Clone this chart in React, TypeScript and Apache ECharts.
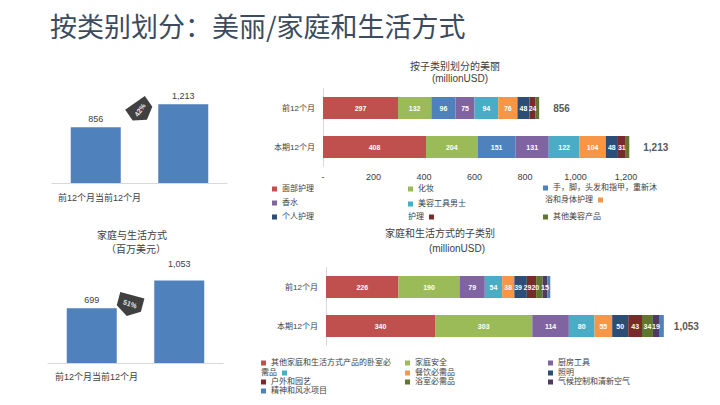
import React, { useEffect, useRef } from "react";
import * as echarts from "echarts";

const PAGE_TITLE = "按类别划分：美丽/家庭和生活方式";
const periods = ["前12个月", "当前12个月"];
const subPeriods = ["前12个月", "本期12个月"];

const beautyTotals = [856, 1213];
const homeTotals = [699, 1053];

const beautyNames = [
  "面部护理",
  "化妆",
  "手，脚，头发和指甲，重新沐",
  "香水",
  "美容工具男士",
  "浴和身体护理",
  "个人护理",
  "护理",
  "其他美容产品",
];
const beautyPrev = [297, 132, 96, 75, 94, 76, 48, 24, 14];
const beautyCurr = [408, 204, 151, 131, 122, 104, 48, 31, 14];
const beautyColors = ["#C0504D", "#9BBB59", "#4F81BD", "#8064A2", "#4BACC6", "#F79646", "#2C4D75", "#772C2A", "#5F7530"];

const homeNames = [
  "其他家庭和生活方式产品的卧室必",
  "家庭安全",
  "厨房工具",
  "需品",
  "餐饮必需品",
  "照明",
  "户外和园艺",
  "浴室必需品",
  "气候控制和清新空气",
  "精神和风水项目",
];
const homePrev = [226, 190, 79, 54, 38, 39, 29, 20, 15, 9];
const homeCurr = [340, 303, 114, 80, 55, 50, 43, 34, 19, 15];
const homeColors = ["#C0504D", "#9BBB59", "#8064A2", "#4BACC6", "#F79646", "#2C4D75", "#772C2A", "#5F7530", "#4D3B62", "#4F81BD"];

// horizontal nudges of crowded segment labels in the first row of the home chart
const homePrevLabelShift = [0, 0, 0, 0, 0, -2.5, -4, -4, 0, 0];

// legend layout (x, center y, marker side)
const beautyLegendPos: [number, number, string][] = [
  [272, 190, "left"], [408, 190, "left"], [543, 189, "left"],
  [272, 204, "left"], [408, 205, "left"], [545, 201, "right"],
  [272, 218, "left"], [408, 218, "right"], [543, 218, "left"],
];
const homeLegendPos: [number, number, string][] = [
  [261, 364, "left"], [405, 364, "left"], [548, 364, "left"],
  [261, 374, "right"], [405, 374, "left"], [548, 374, "left"],
  [261, 383, "left"], [405, 383, "left"], [548, 383, "left"],
  [261, 392, "left"],
];

const FONT = "'Liberation Sans','Noto Sans CJK SC',sans-serif";
const TXT = "#404040";
const AXIS = "#D9D9D9";

const fmt = (v: number) => (v === 0 ? "-" : v.toLocaleString("en-US"));
const sumAt = (arrs: number[][], i: number) => arrs.reduce((s, a) => s + a[i], 0);

function badge(x: number, y: number, rotDeg: number, textRotDeg: number, size: number, text: string) {
  const s = size / 22;
  return {
    type: "group",
    x,
    y,
    rotation: (rotDeg * Math.PI) / 180,
    children: [
      {
        type: "polygon",
        shape: { points: [[-11 * s, -8 * s], [11 * s, -8 * s], [11 * s, 4 * s], [0, 11 * s], [-11 * s, 4 * s]] },
        style: { fill: "#404040" },
      },
      {
        type: "text",
        rotation: ((textRotDeg - rotDeg) * Math.PI) / 180,
        style: { text, x: 0, y: 0, align: "center", verticalAlign: "middle", fill: "#E8E8E8", fontSize: 7, fontWeight: "bold", fontFamily: FONT },
      },
    ],
  };
}

function centerText(text: string, x: number, y: number, size = 10) {
  return { type: "text", style: { text, x, y, align: "center", verticalAlign: "middle", fill: TXT, fontSize: size, fontFamily: FONT } };
}

export default function App() {
  const ref = useRef<HTMLDivElement>(null);
  useEffect(() => {
    if (!ref.current) return;
    const chart = echarts.init(ref.current, undefined, { renderer: "svg" });

    const beautyRows = beautyNames.map((_, i) => [beautyPrev[i], beautyCurr[i]]);
    const homeRows = homeNames.map((_, i) => [homePrev[i], homeCurr[i]]);
    const beautySubTotals = [0, 1].map((j) => sumAt(beautyRows, j));
    const homeSubTotals = [0, 1].map((j) => sumAt(homeRows, j));

    const pct = (a: number[]) => Math.round((a[1] / a[0] - 1) * 100) + "%";
    const segLabel = { show: true, position: "inside", fontSize: 7, fontWeight: "bold", color: "#fff" };

    const beautySeries = beautyNames.map((name, i) => {
      const last = i === beautyNames.length - 1;
      return {
        type: "bar",
        name,
        stack: "beauty",
        xAxisIndex: 2,
        yAxisIndex: 2,
        barWidth: 22,
        data: beautyRows[i],
        itemStyle: { color: beautyColors[i] },
        label: last
          ? { show: true, position: "right", distance: 14, fontSize: 10, fontWeight: "bold", color: "#595959", formatter: (p: any) => fmt(beautySubTotals[p.dataIndex]) }
          : segLabel,
      };
    });
    const homeSeries = homeNames.map((name, i) => {
      const last = i === homeNames.length - 1;
      return {
        type: "bar",
        name,
        stack: "home",
        xAxisIndex: 3,
        yAxisIndex: 3,
        barWidth: 22,
        data: [
          homePrevLabelShift[i] ? { value: homeRows[i][0], label: { offset: [homePrevLabelShift[i], 0] } } : homeRows[i][0],
          homeRows[i][1],
        ],
        itemStyle: { color: homeColors[i] },
        label: last
          ? { show: true, position: "right", distance: 10, fontSize: 10, fontWeight: "bold", color: "#595959", formatter: (p: any) => (p.dataIndex === 1 ? fmt(homeSubTotals[1]) : "") }
          : segLabel,
      };
    });

    const mkLegend = (names: string[], pos: [number, number, string][]) =>
      names.map((name, i) => ({
        data: [name],
        left: pos[i][0],
        top: pos[i][1] - 5,
        align: pos[i][2],
        padding: 0,
        itemGap: 0,
        itemWidth: 5,
        itemHeight: 5,
        icon: "rect",
        selectedMode: false,
        textStyle: { fontSize: 8, color: TXT, fontFamily: FONT },
      }));

    const catAxisLeft = (gridIndex: number) => ({
      gridIndex,
      type: "category",
      data: periods,
      axisLine: { lineStyle: { color: AXIS } },
      axisTick: { show: false },
      axisLabel: { show: false },
    });
    const catAxisRight = (gridIndex: number) => ({
      gridIndex,
      type: "category",
      data: subPeriods,
      inverse: true,
      axisLine: { lineStyle: { color: AXIS } },
      axisTick: { length: 3, lineStyle: { color: AXIS } },
      axisLabel: { fontSize: 8, color: TXT, margin: 8 },
    });

    chart.setOption({
      animation: false,
      textStyle: { fontFamily: FONT },
      title: {
        text: PAGE_TITLE,
        left: 45,
        top: 7,
        textStyle: { fontSize: 27, fontWeight: "normal", color: "#3D4B5E", fontFamily: "'Noto Sans CJK SC'" },
      },
      grid: [
        { left: 52, right: 720 - 227, top: 92, bottom: 222 },
        { left: 48, right: 720 - 223, top: 269, bottom: 42 },
        { left: 323, right: 43.5, top: 88.5, bottom: 405 - 166.5 },
        { left: 326, right: 9, top: 267.5, bottom: 405 - 345.5 },
      ],
      xAxis: [
        catAxisLeft(0),
        catAxisLeft(1),
        {
          gridIndex: 2,
          type: "value",
          min: 0,
          max: 1400,
          interval: 200,
          axisLine: { show: false },
          axisTick: { show: false },
          splitLine: { show: false },
          axisLabel: { fontSize: 9, color: TXT, margin: 6, formatter: (v: number) => (v === 1400 ? "" : fmt(v)) },
        },
        { gridIndex: 3, type: "value", min: 0, max: 1200, show: false },
      ],
      yAxis: [
        { gridIndex: 0, type: "value", min: 0, max: 1400, show: false },
        { gridIndex: 1, type: "value", min: 0, max: 1200, show: false },
        catAxisRight(2),
        catAxisRight(3),
      ],
      legend: [...mkLegend(beautyNames, beautyLegendPos), ...mkLegend(homeNames, homeLegendPos)],
      series: [
        {
          type: "bar",
          name: "美丽",
          xAxisIndex: 0,
          yAxisIndex: 0,
          barWidth: 50,
          data: beautyTotals,
          itemStyle: { color: "#4F81BD" },
          label: { show: true, position: "top", distance: 4, fontSize: 9, color: TXT, formatter: (p: any) => fmt(p.value) },
        },
        {
          type: "bar",
          name: "家庭与生活方式",
          xAxisIndex: 1,
          yAxisIndex: 1,
          barWidth: 50,
          data: [homeTotals[0], { value: homeTotals[1], label: { offset: [0, -8] } }],
          itemStyle: { color: "#4F81BD" },
          label: { show: true, position: "top", distance: 4, fontSize: 9, color: TXT, formatter: (p: any) => fmt(p.value) },
        },
        ...beautySeries,
        ...homeSeries,
      ],
      graphic: [
        { type: "text", style: { text: periods.join(""), x: 58, y: 198, verticalAlign: "middle", fill: TXT, fontSize: 9, fontFamily: FONT } },
        { type: "text", style: { text: periods.join(""), x: 55, y: 377, verticalAlign: "middle", fill: TXT, fontSize: 9, fontFamily: FONT } },
        centerText("家庭与生活方式", 132, 235),
        centerText("（百万美元）", 136, 249),
        centerText("按子类别划分的美丽", 455, 66),
        centerText("(millionUSD)", 460, 78),
        centerText("家庭和生活方式的子类别", 440, 233),
        centerText("(millionUSD)", 457, 248),
        badge(140, 110, 35, 55, 24, pct(beautyTotals)),
        badge(130, 304, -15, -20, 25, pct(homeTotals)),
      ],
    } as any);
    return () => chart.dispose();
  }, []);

  return <div ref={ref} style={{ position: "fixed", left: 0, top: 0, width: 720, height: 405, background: "#fff" }} />;
}
